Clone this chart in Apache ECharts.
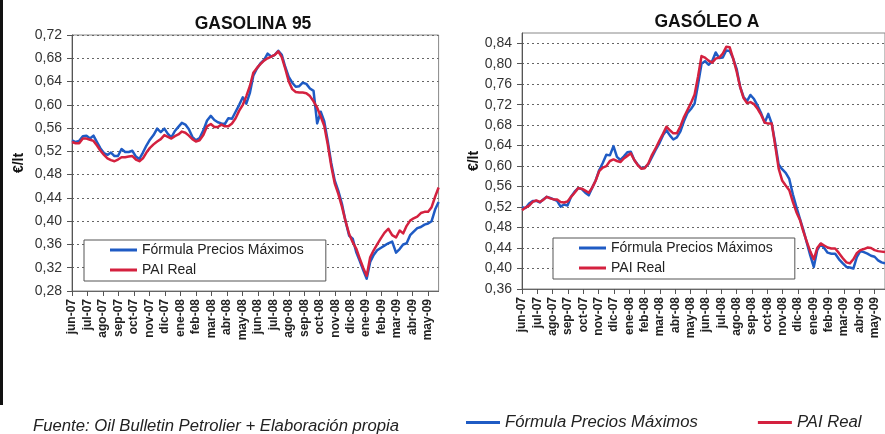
<!DOCTYPE html>
<html>
<head>
<meta charset="utf-8">
<script src="https://cdn.jsdelivr.net/npm/echarts@6/dist/echarts.min.js"></script>
<style>
  html, body { margin: 0; padding: 0; background: #fff; }
  #chart { width: 885px; height: 434px; }
</style>
</head>
<body>
<div id="chart"></div>
<script>
// Month tick labels (Spanish abbreviations)
const months = ['jun-07','jul-07','ago-07','sep-07','oct-07','nov-07','dic-07','ene-08','feb-08','mar-08','abr-08','may-08',
                'jun-08','jul-08','ago-08','sep-08','oct-08','nov-08','dic-08','ene-09','feb-09','mar-09','abr-09','may-09'];

// Weekly observations, first week starting 1 June 2007
const firstWeek = [2007, 6, 1];
const weekCount = 104;

// Gasolina 95 (€/lt)
const gasolinaFormula = [
  0.539,0.536,0.538,0.546,0.547,0.542,0.547,0.536,0.525,0.517,
  0.514,0.518,0.512,0.512,0.524,0.519,0.519,0.521,0.511,0.507,
  0.518,0.530,0.540,0.548,0.559,0.553,0.559,0.550,0.544,0.555,
  0.562,0.569,0.566,0.558,0.545,0.539,0.543,0.556,0.573,0.581,
  0.574,0.570,0.568,0.567,0.577,0.576,0.588,0.600,0.613,0.602,
  0.620,0.650,0.662,0.671,0.677,0.688,0.683,0.686,0.693,0.686,
  0.665,0.648,0.638,0.631,0.632,0.638,0.636,0.628,0.624,0.568,
  0.588,0.572,0.538,0.500,0.470,0.452,0.430,0.400,0.375,0.370,
  0.347,0.332,0.316,0.301,0.330,0.342,0.350,0.354,0.358,0.362,
  0.365,0.346,0.352,0.360,0.362,0.376,0.382,0.388,0.390,0.394,
  0.396,0.400,0.420,0.433
];
const gasolinaPai = [
  0.536,0.534,0.534,0.542,0.542,0.540,0.538,0.530,0.521,0.514,
  0.508,0.505,0.503,0.506,0.510,0.510,0.511,0.512,0.506,0.503,
  0.508,0.518,0.526,0.532,0.537,0.541,0.548,0.545,0.542,0.546,
  0.549,0.554,0.552,0.547,0.541,0.537,0.539,0.548,0.563,0.567,
  0.562,0.562,0.566,0.563,0.563,0.568,0.577,0.590,0.600,0.615,
  0.632,0.655,0.663,0.670,0.676,0.680,0.683,0.686,0.692,0.682,
  0.662,0.640,0.627,0.622,0.621,0.621,0.620,0.615,0.606,0.595,
  0.580,0.564,0.532,0.495,0.465,0.447,0.425,0.400,0.378,0.364,
  0.353,0.336,0.320,0.306,0.338,0.350,0.360,0.370,0.380,0.387,
  0.376,0.372,0.384,0.379,0.392,0.401,0.405,0.408,0.414,0.416,
  0.416,0.424,0.442,0.458
];

// Gasóleo A (€/lt)
const gasoleoFormula = [
  0.520,0.518,0.527,0.532,0.532,0.529,0.535,0.540,0.538,0.535,
  0.532,0.521,0.525,0.523,0.540,0.550,0.557,0.555,0.548,0.543,
  0.558,0.572,0.592,0.606,0.622,0.621,0.639,0.618,0.612,0.619,
  0.627,0.628,0.612,0.603,0.596,0.597,0.604,0.618,0.632,0.645,
  0.660,0.670,0.660,0.652,0.656,0.668,0.688,0.704,0.712,0.722,
  0.760,0.800,0.805,0.798,0.805,0.822,0.811,0.812,0.826,0.825,
  0.810,0.790,0.755,0.735,0.727,0.739,0.731,0.718,0.703,0.685,
  0.702,0.683,0.645,0.603,0.594,0.587,0.575,0.545,0.520,0.497,
  0.475,0.450,0.425,0.403,0.436,0.448,0.440,0.431,0.429,0.429,
  0.418,0.410,0.403,0.402,0.400,0.422,0.434,0.432,0.429,0.425,
  0.423,0.416,0.412,0.410
];
const gasoleoPai = [
  0.514,0.519,0.523,0.530,0.533,0.530,0.534,0.540,0.537,0.535,
  0.535,0.530,0.529,0.531,0.540,0.548,0.557,0.556,0.552,0.548,
  0.558,0.572,0.590,0.597,0.600,0.610,0.613,0.610,0.608,0.615,
  0.620,0.625,0.612,0.602,0.595,0.596,0.605,0.622,0.635,0.650,
  0.663,0.677,0.670,0.664,0.664,0.678,0.696,0.710,0.724,0.740,
  0.775,0.815,0.812,0.806,0.802,0.810,0.812,0.820,0.833,0.832,
  0.810,0.785,0.755,0.733,0.723,0.725,0.721,0.712,0.700,0.685,
  0.683,0.683,0.640,0.595,0.572,0.562,0.553,0.530,0.510,0.495,
  0.472,0.452,0.433,0.418,0.440,0.449,0.445,0.441,0.439,0.439,
  0.430,0.420,0.412,0.410,0.418,0.430,0.436,0.438,0.441,0.440,
  0.436,0.434,0.433,0.432
];

const gasolinaTicks = [0.28,0.32,0.36,0.40,0.44,0.48,0.52,0.56,0.60,0.64,0.68,0.72];
const gasoleoTicks  = [0.36,0.40,0.44,0.48,0.52,0.56,0.60,0.64,0.68,0.72,0.76,0.80,0.84];

const NAME_FORMULA = 'Fórmula Precios Máximos';
const NAME_PAI = 'PAI Real';
const BLUE = '#1f5bc4';
const RED = '#d4213f';
const FONT = '"Liberation Sans", Arial, sans-serif';

// Position of each week on a month-based axis (0 = 1 June 2007)
function monthPos(ts) {
  const d = new Date(ts);
  const y = d.getUTCFullYear(), mo = d.getUTCMonth(), day = d.getUTCDate();
  const dim = new Date(Date.UTC(y, mo + 1, 0)).getUTCDate();
  return (y - firstWeek[0]) * 12 + mo - (firstWeek[1] - 1) + (day - 1) / dim;
}
const t0 = Date.UTC(firstWeek[0], firstWeek[1] - 1, firstWeek[2]);
const weekPos = [];
for (let i = 0; i < weekCount; i++) weekPos.push(monthPos(t0 + i * 7 * 86400000));
const xMax = weekPos[weekPos.length - 1];
const monthIdx = months.map((_, i) => i);

const pairs = arr => arr.map((v, i) => [weekPos[i], v]);
const comma = v => v.toFixed(2).replace('.', ',');

function xAxisCfg(gi) {
  return {
    type: 'value', gridIndex: gi, min: 0, max: xMax, interval: 1,
    axisLine: { show: true, lineStyle: { color: '#666', width: 1 } },
    axisTick: { show: true, length: 5, customValues: monthIdx, lineStyle: { color: '#555' } },
    axisLabel: {
      customValues: monthIdx, rotate: 90, margin: 8,
      formatter: v => months[Math.round(v)] || '',
      fontFamily: FONT, fontSize: 12, fontWeight: 'bold', color: '#222'
    },
    splitLine: { show: false }
  };
}
function yAxisCfg(gi, ticks, max, gap) {
  return {
    type: 'value', gridIndex: gi, min: ticks[0], max: max, interval: 0.04,
    name: '€/lt', nameLocation: 'middle', nameGap: gap,
    nameTextStyle: { fontFamily: FONT, fontSize: 14, fontWeight: 'bold', color: '#111' },
    axisLine: { show: true, lineStyle: { color: '#555', width: 1 } },
    axisTick: { show: true, length: 5, customValues: ticks, lineStyle: { color: '#555' } },
    axisLabel: { customValues: ticks, formatter: comma, margin: 10, fontFamily: FONT, fontSize: 14, color: '#333' },
    splitLine: { show: true, lineStyle: { type: [2, 3], color: '#666', width: 1 } }
  };
}
function boxLegend(left, top) {
  return {
    data: [NAME_FORMULA, NAME_PAI], orient: 'vertical', left: left, top: top,
    padding: [3, 22, 4, 26], itemGap: 6, itemWidth: 27, itemHeight: 3, icon: 'rect',
    backgroundColor: '#fff', borderColor: '#555', borderWidth: 1, selectedMode: false,
    textStyle: { fontFamily: FONT, fontSize: 14, color: '#222', lineHeight: 14 }
  };
}
function line(name, xi, data, color) {
  return {
    type: 'line', name: name, xAxisIndex: xi, yAxisIndex: xi, data: pairs(data),
    showSymbol: false, symbol: 'none', color: color,
    lineStyle: { color: color, width: 2.5, join: 'round' }
  };
}

const chart = echarts.init(document.getElementById('chart'), null, { renderer: 'canvas' });
chart.setOption({
  animation: false,
  backgroundColor: '#fff',
  title: [
    { text: 'GASOLINA 95', left: 248, top: 10, textAlign: 'center',
      textStyle: { fontFamily: FONT, fontSize: 17.5, fontWeight: 'bold', color: '#111' } },
    { text: 'GASÓLEO A', left: 702, top: 8, textAlign: 'center',
      textStyle: { fontFamily: FONT, fontSize: 17.5, fontWeight: 'bold', color: '#111' } },
    { text: 'Fuente: Oil Bulletin Petrolier + Elaboración propia', left: 28, top: 413,
      textStyle: { fontFamily: FONT, fontSize: 16.7, fontStyle: 'italic', fontWeight: 'normal', color: '#222' } }
  ],
  legend: [
    boxLegend(84, 240),
    boxLegend(553, 238),
    { data: [NAME_FORMULA, NAME_PAI], orient: 'horizontal', left: 466, top: 414, padding: 0,
      itemGap: 60, itemWidth: 34, itemHeight: 3, icon: 'rect', selectedMode: false,
      textStyle: { fontFamily: FONT, fontSize: 16.7, fontStyle: 'italic', color: '#222' } }
  ],
  grid: [
    { left: 72, top: 35, width: 366.6, height: 256, show: true, borderColor: '#888', borderWidth: 1 },
    { left: 522, top: 33, width: 372.5, height: 256, show: true, borderColor: '#888', borderWidth: 1 }
  ],
  xAxis: [xAxisCfg(0), xAxisCfg(1)],
  yAxis: [yAxisCfg(0, gasolinaTicks, 0.72, 46), yAxisCfg(1, gasoleoTicks, 0.86, 41)],
  series: [
    line(NAME_FORMULA, 0, gasolinaFormula, BLUE),
    line(NAME_PAI, 0, gasolinaPai, RED),
    line(NAME_FORMULA, 1, gasoleoFormula, BLUE),
    line(NAME_PAI, 1, gasoleoPai, RED)
  ],
  graphic: [
    { type: 'rect', left: 0, top: 0, shape: { width: 3, height: 405 }, style: { fill: '#111' }, silent: true }
  ]
});
</script>
</body>
</html>
